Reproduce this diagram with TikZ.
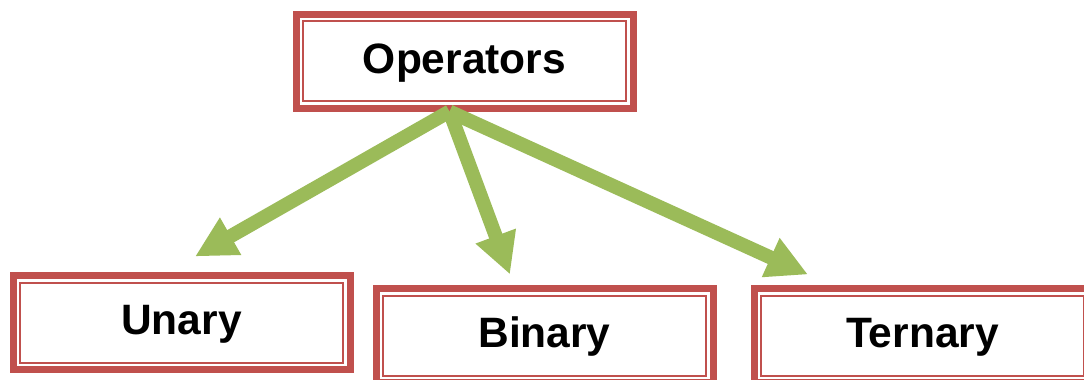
\documentclass[tikz,border=0pt]{standalone}
\usepackage{fontspec}
\setmainfont{Liberation Sans}
\usetikzlibrary{arrows.meta}
\definecolor{boxred}{HTML}{C0504D}
\definecolor{arrowgreen}{HTML}{9BBB59}
\begin{document}
\begin{tikzpicture}[
  x=1pt, y=1pt,
  opbox/.style={rectangle, draw=boxred, line width=7pt, fill=white, inner sep=0pt,
    minimum width=337pt, minimum height=94pt, text height=30pt, text depth=6pt,
    font=\fontsize{42.5}{48}\selectfont\bfseries,
    path picture={\draw[boxred, line width=2pt]
      ([shift={(7,-7)}]path picture bounding box.north west) rectangle
      ([shift={(-7,7)}]path picture bounding box.south east);}},
  flow/.style={draw=arrowgreen, line width=14pt, -{Triangle[length=41pt, width=40pt]}}
]
  \useasboundingbox (0,0) rectangle (1084,-380);

  % Cajas (raíz y tipos)
  \node[opbox] (ops) at (464.5,-61) {Operators};
  \node[opbox] (un)  at (181.5,-322.5) {Unary};
  \node[opbox] (bin) at (544.5,-335.5) {Binary};
  \node[opbox] (ter) at (922.5,-335.5) {Ternary};

  % Flechas desde la raíz
  \coordinate (hub) at ([xshift=-15pt]ops.south);
  \foreach \t/\dx/\dy in {un/13.5/15.5, bin/-34.5/10.5, ter/-114.5/10.5} {
    \draw[flow] (hub) -- ([shift={(\dx,\dy)}]\t.north);
  }
\end{tikzpicture}
\end{document}
